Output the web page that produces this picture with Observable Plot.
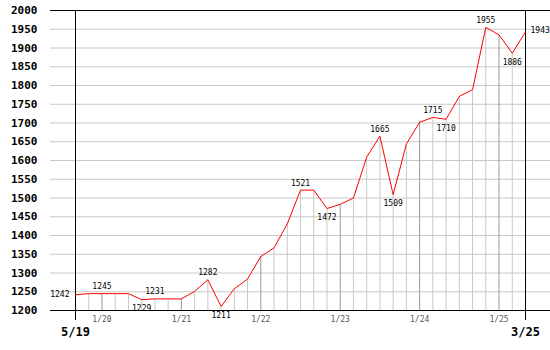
<!DOCTYPE html>
<html><head><meta charset="utf-8">
<script src="https://cdn.jsdelivr.net/npm/d3@7"></script>
<script src="https://cdn.jsdelivr.net/npm/@observablehq/plot@0.6"></script>
<style>body{margin:0;background:#fff}</style>
</head><body><div id="chart"></div>
<script>
const values = [1242,1245,1245,1245,1245,1229,1231,1231,1231,1251,1282,1211,1258,1284,1344,1367,1431,1521,1521,1472,1483,1500,1609,1665,1509,1644,1702,1715,1710,1771,1789,1955,1935,1886,1943];
const yearIdx = [2,8,14,20,26,32];
const yearLabels = ["1/20","1/21","1/22","1/23","1/24","1/25"];
const peakIdx = [2,6,10,17,23,27,31];
const troughIdx = [5,11,19,24,28,33];
const startLabel = "5/19";
const endLabel = "3/25";
const yTicks = d3.range(1200, 2001, 50);

const data = values.map((v, i) => ({i, v}));
const last = values.length - 1;
const minor = data.filter(d => d.i > 0 && d.i < last && !yearIdx.includes(d.i));
const major = data.filter(d => yearIdx.includes(d.i));
const peaks = data.filter(d => peakIdx.includes(d.i));
const troughs = data.filter(d => troughIdx.includes(d.i));
const mono = "DejaVu Sans Mono, monospace";

const chart = Plot.plot({
  width: 550, height: 350,
  marginTop: 10, marginBottom: 40, marginLeft: 50, marginRight: 0,
  style: {fontFamily: mono, background: "#fff"},
  x: {type: "linear", domain: [0, last], range: [75, 525], axis: null},
  y: {domain: [1200, 2000], range: [310, 10], axis: null},
  marks: [
    Plot.ruleY(yTicks.filter(t => t > 1200 && t < 2000), {stroke: "#c8c8c8"}),
    Plot.ruleX(minor, {x: "i", y1: 1200, y2: "v", stroke: "#c8c8c8"}),
    Plot.ruleX(major, {x: "i", y1: 1200, y2: "v", stroke: "#999"}),
    Plot.ruleY([1200, 2000], {stroke: "#000"}),
    Plot.ruleX([0, last], {x: d => d, y1: () => 2000, y2: () => 1200, stroke: "#000", insetBottom: -10}),
    Plot.line(data, {x: "i", y: "v", stroke: "#f00", strokeWidth: 1}),
    Plot.axisY({ticks: yTicks, tickFormat: "d", label: null, tickSize: 0, tickPadding: 13, fontSize: 11, fontWeight: "bold", fontFamily: mono, fill: "#000"}),
    Plot.text(yearIdx, {x: d => d, y: () => 1200, text: (d, k) => yearLabels[k], dy: 9, fontSize: 8, fill: "#555", fontFamily: mono}),
    Plot.text([0, last], {x: d => d, y: () => 1200, text: (d, k) => k === 0 ? startLabel : endLabel, dy: 22, fontSize: 12, fontWeight: "bold", fill: "#000", fontFamily: mono}),
    Plot.text(peaks, {x: "i", y: "v", text: d => String(d.v), dy: -7, fontSize: 8, fill: "#000", fontFamily: mono}),
    Plot.text(troughs, {x: "i", y: "v", text: d => String(d.v), dy: 9, fontSize: 8, fill: "#000", fontFamily: mono}),
    Plot.text([data[0]], {x: "i", y: "v", text: d => String(d.v), dx: -6, textAnchor: "end", fontSize: 8, fill: "#000", fontFamily: mono}),
    Plot.text([data[last]], {x: "i", y: "v", text: d => String(d.v), dx: 5, dy: -1, textAnchor: "start", fontSize: 8, fill: "#000", fontFamily: mono})
  ]
});
document.getElementById("chart").appendChild(chart);
</script>
</body></html>
